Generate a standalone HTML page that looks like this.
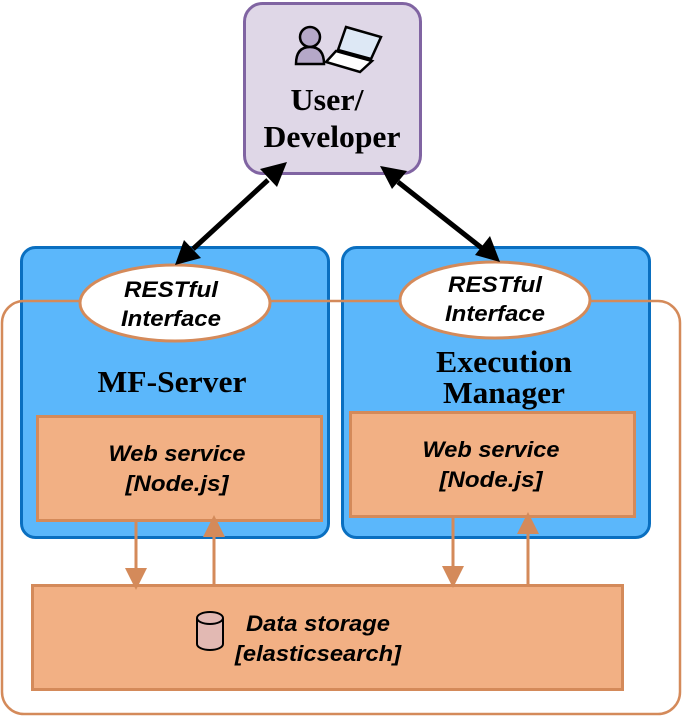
<!DOCTYPE html>
<html><head><meta charset="utf-8"><style>
body{margin:0;background:#fff;width:682px;height:717px;overflow:hidden}
svg{display:block}
.b{font-family:"Liberation Serif",serif;font-weight:bold;fill:#000}
.i{font-family:"Liberation Sans",sans-serif;font-weight:bold;font-style:italic;fill:#000}
</style></head><body>
<svg width="682" height="717" viewBox="0 0 682 717" xmlns="http://www.w3.org/2000/svg">
<rect x="244.5" y="3.5" width="176" height="170" rx="18" fill="#dfd7e7" stroke="#8064a2" stroke-width="3"/>
<g transform="translate(294,24)">
<circle cx="16" cy="13" r="10" fill="#b5a8c8" stroke="#000" stroke-width="2.5"/>
<path d="M2,40 Q2,23 16,23 Q30,23 30,40 Z" fill="#b5a8c8" stroke="#000" stroke-width="2.5"/>
<path d="M52,3 L87,13 L77,35 L44,26 Z" fill="#dde8f5" stroke="#000" stroke-width="2.5"/>
<path d="M42,27 L78,37 L66,48 L32,38 Z" fill="#fff" stroke="#000" stroke-width="2.5"/>
</g>
<text class="b" x="327" y="110" font-size="31" text-anchor="middle" textLength="73" lengthAdjust="spacingAndGlyphs">User/</text>
<text class="b" x="332" y="147" font-size="31" text-anchor="middle" textLength="137" lengthAdjust="spacingAndGlyphs">Developer</text>
<rect x="21.5" y="247.5" width="307" height="290" rx="14" fill="#5bb7fb" stroke="#0a6fc0" stroke-width="3"/>
<rect x="342.5" y="247.5" width="307" height="290" rx="14" fill="#5bb7fb" stroke="#0a6fc0" stroke-width="3"/>
<rect x="2" y="301" width="678" height="413" rx="22" fill="none" stroke="#d48a5a" stroke-width="2.5"/>
<ellipse cx="175" cy="303" rx="95" ry="38" fill="#fff" stroke="#d48a5a" stroke-width="3"/>
<ellipse cx="495" cy="300" rx="95" ry="38" fill="#fff" stroke="#d48a5a" stroke-width="3"/>
<text class="i" x="171" y="297" font-size="22" text-anchor="middle" textLength="94" lengthAdjust="spacingAndGlyphs">RESTful</text>
<text class="i" x="171" y="326" font-size="22" text-anchor="middle" textLength="100" lengthAdjust="spacingAndGlyphs">Interface</text>
<text class="i" x="495" y="292" font-size="22" text-anchor="middle" textLength="94" lengthAdjust="spacingAndGlyphs">RESTful</text>
<text class="i" x="495" y="321" font-size="22" text-anchor="middle" textLength="100" lengthAdjust="spacingAndGlyphs">Interface</text>
<text class="b" x="172" y="392" font-size="31" text-anchor="middle" textLength="149" lengthAdjust="spacingAndGlyphs">MF-Server</text>
<text class="b" x="504" y="372" font-size="31" text-anchor="middle" textLength="136" lengthAdjust="spacingAndGlyphs">Execution</text>
<text class="b" x="504" y="403" font-size="31" text-anchor="middle" textLength="122" lengthAdjust="spacingAndGlyphs">Manager</text>
<rect x="37.5" y="416.5" width="284" height="104" fill="#f2b084" stroke="#d48a5a" stroke-width="3"/>
<rect x="350.5" y="412.5" width="284" height="104" fill="#f2b084" stroke="#d48a5a" stroke-width="3"/>
<text class="i" x="177" y="461" font-size="22" text-anchor="middle" textLength="137" lengthAdjust="spacingAndGlyphs">Web service</text>
<text class="i" x="177" y="491" font-size="22" text-anchor="middle" textLength="103" lengthAdjust="spacingAndGlyphs">[Node.js]</text>
<text class="i" x="491" y="457" font-size="22" text-anchor="middle" textLength="137" lengthAdjust="spacingAndGlyphs">Web service</text>
<text class="i" x="491" y="487" font-size="22" text-anchor="middle" textLength="103" lengthAdjust="spacingAndGlyphs">[Node.js]</text>
<rect x="32.5" y="585.5" width="590" height="104" fill="#f2b084" stroke="#d48a5a" stroke-width="3"/>
<g transform="translate(196,612)">
<path d="M1,6 L1,32 A13,6 0 0 0 27,32 L27,6" fill="#e2b9b3" stroke="#000" stroke-width="2"/>
<ellipse cx="14" cy="6" rx="13" ry="6" fill="#e2b9b3" stroke="#000" stroke-width="2"/>
</g>
<text class="i" x="318" y="631" font-size="22" text-anchor="middle" textLength="144" lengthAdjust="spacingAndGlyphs">Data storage</text>
<text class="i" x="318" y="661" font-size="22" text-anchor="middle" textLength="166" lengthAdjust="spacingAndGlyphs">[elasticsearch]</text>
<g stroke="#d48a5a" stroke-width="3" fill="#d48a5a">
<line x1="136" y1="521" x2="136" y2="570"/><path d="M125,568 L147,568 L136,590 Z" stroke="none"/>
<line x1="214" y1="584" x2="214" y2="535"/><path d="M203,537 L225,537 L214,515 Z" stroke="none"/>
<line x1="453" y1="517" x2="453" y2="568"/><path d="M442,566 L464,566 L453,588 Z" stroke="none"/>
<line x1="528" y1="584" x2="528" y2="532"/><path d="M517,534 L539,534 L528,512 Z" stroke="none"/>
</g>
<g stroke="#000" stroke-width="5">
<line x1="268" y1="180" x2="193" y2="249"/>
<line x1="398" y1="182" x2="483" y2="249"/>
</g>
<path d="M287,162 L260,169 L277,187 Z" fill="#000"/>
<path d="M175,265 L184,240 L201,258 Z" fill="#000"/>
<path d="M380,166 L392,189 L407,171 Z" fill="#000"/>
<path d="M500,262 L475,255 L490,236 Z" fill="#000"/>
</svg>
</body></html>
